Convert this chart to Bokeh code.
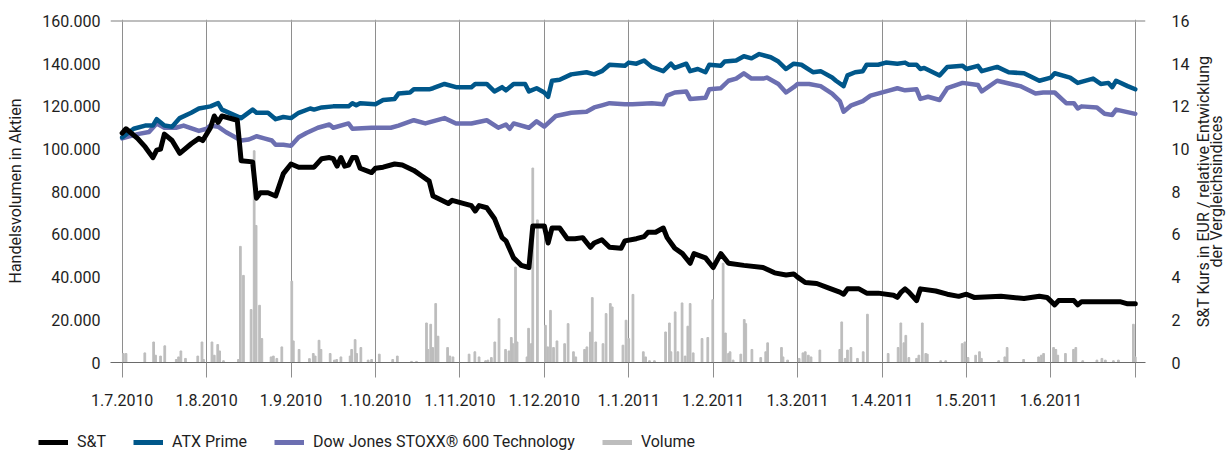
import math
from bokeh.plotting import figure
from bokeh.layouts import column, row
from bokeh.models import Range1d, LinearAxis, FixedTicker, Legend, LegendItem, Span, Label
from bokeh.embed import file_html
from bokeh.resources import INLINE

# ---------------- data ----------------
# x positions are trading-day indices from 1.7.2010 (22 trading days per labelled month step)
month_ticks = [0, 22, 44, 66, 88, 110, 132, 154, 176, 198, 220, 242, 264]
month_labels = ["1.7.2010", "1.8.2010", "1.9.2010", "1.10.2010", "1.11.2010", "1.12.2010",
                "1.1.2011", "1.2.2011", "1.3.2011", "1.4.2011", "1.5.2011", "1.6.2011", ""]

vol_ticks = [0, 20000, 40000, 60000, 80000, 100000, 120000, 140000, 160000]
vol_tick_labels = ["0", "20.000", "40.000", "60.000", "80.000", "100.000", "120.000", "140.000", "160.000"]
price_ticks = [0, 2, 4, 6, 8, 10, 12, 14, 16]

st_t = [0, 1, 4, 6, 8, 9, 10, 11, 13, 15, 18, 20, 21, 23, 24, 25, 26, 30, 31, 34,
        35, 36, 38, 40, 42, 44, 46, 50, 52, 54, 55, 56, 57, 58, 59, 60, 61, 62, 65, 66,
        68, 71, 73, 76, 78, 80, 81, 85, 86, 91, 92, 93, 95, 97, 99, 100, 102, 104, 106, 107,
        110, 111, 112, 114, 116, 118, 120, 122, 123, 125, 127, 130, 131, 134, 136, 137, 139, 141, 142, 144,
        146, 148, 149, 152, 154, 156, 158, 162, 167, 170, 173, 175, 176, 178, 181, 184, 187, 188, 189, 192,
        194, 197, 201, 202, 203, 204, 205, 207, 208, 212, 215, 218, 220, 222, 229, 235, 239, 241, 243, 244,
        248, 249, 250, 254, 260, 262, 264]
st_v = [10.75, 10.95, 10.5, 10.1, 9.6, 9.95, 10.0, 10.7, 10.4, 9.8,
        10.25, 10.5, 10.4, 11.0, 11.55, 11.25, 11.55, 11.35, 9.45, 9.4,
        7.7, 7.95, 7.95, 7.8, 8.85, 9.3, 9.15, 9.15, 9.55, 9.6,
        9.55, 9.2, 9.6, 9.2, 9.25, 9.6, 9.6, 9.1, 8.9, 9.1,
        9.15, 9.3, 9.25, 9.0, 8.75, 8.5, 7.8, 7.45, 7.6, 7.35,
        7.1, 7.35, 7.25, 6.75, 5.85, 5.7, 4.9, 4.55, 4.45, 6.4,
        6.4, 5.6, 6.3, 6.3, 5.8, 5.8, 5.85, 5.4, 5.6, 5.75,
        5.4, 5.35, 5.7, 5.8, 5.9, 6.1, 6.1, 6.3, 5.85, 5.35,
        5.1, 4.65, 5.1, 4.9, 4.45, 5.1, 4.65, 4.55, 4.45, 4.2,
        4.1, 4.15, 4.0, 3.75, 3.7, 3.5, 3.3, 3.2, 3.45, 3.45,
        3.25, 3.25, 3.15, 3.05, 3.3, 3.45, 3.3, 2.9, 3.45, 3.35,
        3.2, 3.1, 3.2, 3.05, 3.1, 3.0, 3.1, 3.05, 2.7, 2.9,
        2.9, 2.7, 2.85, 2.85, 2.85, 2.75, 2.75]

atx_t = [0, 3, 6, 8, 9, 11, 13, 15, 18, 20, 23, 25, 26, 31, 34, 35, 38, 40, 42, 44,
         46, 49, 50, 52, 55, 59, 60, 61, 62, 66, 68, 71, 72, 75, 76, 80, 81, 84, 87, 91,
         92, 95, 97, 99, 100, 102, 105, 106, 108, 110, 111, 112, 114, 117, 121, 123, 125, 127, 131, 132,
         134, 136, 138, 141, 143, 144, 147, 148, 150, 152, 153, 156, 157, 160, 162, 164, 166, 169, 171, 173,
         175, 177, 180, 182, 185, 186, 188, 189, 191, 193, 194, 197, 199, 202, 204, 205, 207, 208, 209, 213,
         215, 219, 220, 223, 224, 228, 231, 235, 239, 242, 243, 247, 249, 253, 255, 257, 258, 259, 262, 264]
atx_v = [10.55, 10.95, 11.1, 11.1, 11.4, 11.1, 11.05, 11.45, 11.7, 11.9,
         12.0, 12.15, 11.85, 11.45, 11.85, 11.7, 11.7, 11.4, 11.5, 11.45,
         11.7, 11.9, 11.85, 11.95, 12.0, 12.0, 12.15, 12.05, 12.15, 12.1,
         12.3, 12.35, 12.6, 12.65, 12.8, 12.8, 12.85, 13.05, 12.9, 12.9,
         13.05, 13.05, 12.7, 12.9, 12.75, 13.05, 13.05, 12.7, 12.85, 12.65,
         12.45, 13.2, 13.25, 13.5, 13.6, 13.5, 13.65, 13.95, 13.9, 14.05,
         14.0, 14.15, 13.85, 13.65, 14.0, 13.8, 14.0, 13.65, 13.75, 13.6,
         13.95, 13.9, 14.1, 14.15, 14.35, 14.25, 14.45, 14.3, 14.1, 13.75,
         14.0, 13.95, 13.6, 13.65, 13.35, 13.2, 12.95, 13.45, 13.6, 13.65,
         13.95, 13.95, 14.05, 14.0, 14.05, 13.95, 13.95, 13.75, 13.8, 13.45,
         13.85, 13.9, 13.75, 13.9, 13.65, 13.85, 13.6, 13.55, 13.2, 13.35,
         13.55, 13.35, 13.1, 13.3, 13.05, 13.1, 12.9, 13.2, 12.95, 12.8]

stoxx_t = [0, 4, 7, 9, 11, 14, 16, 20, 22, 23, 25, 27, 31, 33, 35, 37, 39, 40, 42, 44,
           46, 48, 51, 54, 55, 59, 60, 65, 70, 72, 76, 79, 84, 87, 91, 95, 98, 100, 101, 102,
           106, 108, 110, 113, 117, 121, 123, 125, 127, 131, 133, 138, 141, 142, 144, 147, 148, 152, 153, 156,
           158, 160, 162, 164, 167, 168, 171, 173, 175, 176, 179, 182, 185, 187, 188, 190, 193, 195, 200, 202,
           204, 207, 208, 210, 213, 215, 219, 223, 224, 228, 234, 238, 240, 243, 246, 248, 249, 250, 254, 256,
           258, 259, 264]
stoxx_v = [10.5, 10.7, 10.8, 11.2, 11.0, 11.0, 11.1, 10.85, 10.95, 11.1,
           11.05, 10.8, 10.4, 10.45, 10.6, 10.5, 10.4, 10.2, 10.2, 10.15,
           10.55, 10.75, 11.0, 11.15, 11.0, 11.2, 10.95, 11.0, 11.0, 11.1,
           11.35, 11.2, 11.45, 11.2, 11.2, 11.35, 11.0, 11.15, 10.95, 11.2,
           11.0, 11.3, 11.05, 11.55, 11.7, 11.75, 11.95, 12.05, 12.15, 12.1,
           12.1, 12.15, 12.1, 12.5, 12.65, 12.7, 12.35, 12.4, 12.8, 12.85,
           13.2, 13.3, 13.55, 13.3, 13.3, 13.35, 13.05, 12.65, 12.9, 13.05,
           13.05, 12.95, 12.6, 12.25, 11.75, 12.05, 12.25, 12.5, 12.75, 12.85,
           12.75, 12.8, 12.35, 12.45, 12.3, 12.85, 13.1, 13.0, 12.7, 13.2,
           12.95, 12.6, 12.65, 12.65, 12.15, 12.15, 11.9, 12.0, 11.95, 11.65,
           11.6, 11.85, 11.65]

vol_t = [0.3, 1.0, 5.9, 8.2, 8.7, 10.0, 11.1, 14.1, 14.7, 15.3,
         16.5, 19.7, 20.8, 21.2, 23.4, 24.0, 24.9, 25.4, 26.4, 30.3,
         30.8, 31.6, 33.6, 34.4, 34.9, 35.8, 36.4, 38.8, 39.4, 40.3,
         41.6, 44.2, 44.6, 46.1, 48.8, 49.8, 50.3, 51.3, 51.8, 54.2,
         55.3, 55.9, 57.0, 59.4, 59.8, 60.7, 61.1, 62.2, 64.1, 65.0,
         67.0, 70.5, 71.7, 75.4, 76.7, 79.3, 79.7, 80.4, 80.9, 81.7,
         82.3, 84.8, 85.4, 86.2, 90.4, 91.9, 93.0, 94.7, 95.3, 96.2,
         97.1, 98.2, 99.9, 100.8, 101.4, 101.8, 102.5, 102.9, 105.5, 105.9,
         106.6, 107.0, 108.2, 110.3, 110.9, 111.6, 112.4, 113.3, 115.3, 116.2,
         117.6, 118.2, 120.5, 121.1, 122.0, 122.5, 123.4, 125.3, 126.1, 127.2,
         127.7, 130.5, 131.3, 132.0, 133.1, 135.8, 136.4, 137.4, 138.7, 141.6,
         142.6, 143.0, 144.1, 144.8, 145.9, 146.7, 147.4, 148.0, 148.8, 151.1,
         152.6, 153.9, 156.6, 157.2, 158.0, 158.4, 159.2, 161.2, 162.1, 162.5,
         164.1, 166.4, 167.7, 168.2, 171.8, 172.2, 173.4, 176.4, 177.4, 178.0,
         178.8, 179.5, 181.8, 187.0, 187.5, 188.4, 189.0, 189.9, 191.6, 193.1,
         194.2, 199.6, 202.2, 202.9, 203.7, 204.2, 205.0, 207.0, 207.6, 208.5,
         209.4, 209.8, 213.3, 214.6, 218.9, 219.6, 220.4, 222.4, 223.4, 223.9,
         228.4, 230.0, 230.6, 234.9, 238.8, 239.5, 240.1, 242.7, 243.3, 243.8,
         245.8, 247.9, 248.5, 250.3, 254.0, 255.3, 256.2, 258.3, 259.6, 263.5,
         264.0]
vol_v = [4200, 4200, 4500, 9600, 3400, 3000, 7800, 1400, 2600, 5400,
         1900, 3000, 9600, 1400, 9600, 3400, 8400, 5400, 800, 1400,
         54400, 40800, 24800, 99200, 64200, 26800, 11200, 2600, 3000, 1900,
         7300, 38100, 10100, 6100, 1800, 4200, 3000, 10400, 6100, 4200,
         1100, 1400, 2600, 3000, 6100, 10700, 4200, 7000, 1100, 1400,
         3900, 1400, 3000, 500, 500, 18500, 6100, 17900, 7000, 27600,
         12300, 7000, 3000, 2600, 3900, 5000, 2600, 800, 1100, 2300,
         9600, 20500, 6100, 5400, 11700, 8800, 44700, 9600, 2600, 16000,
         8800, 91100, 66800, 17400, 7300, 24400, 7000, 10100, 8800, 18200,
         5000, 2600, 6100, 7300, 14200, 30400, 9600, 8800, 22900, 27600,
         26000, 8100, 19800, 11200, 31900, 5000, 2600, 800, 800, 14300,
         18500, 5000, 23700, 5000, 27900, 3000, 17000, 27600, 4500, 11200,
         11700, 29400, 46500, 13800, 4200, 5000, 1100, 3900, 20100, 18200,
         6100, 2300, 5000, 9200, 7000, 2600, 1100, 1900, 4500, 5000,
         3400, 2600, 5800, 6100, 19000, 1900, 5800, 7000, 1900, 5000,
         22600, 4200, 7000, 18500, 9200, 12700, 2300, 1900, 3400, 18500,
         4200, 3900, 800, 800, 8800, 9600, 2300, 3400, 5000, 1900,
         800, 2600, 7000, 1400, 2600, 3400, 4200, 7000, 6100, 3400,
         4200, 6100, 7000, 800, 1100, 1900, 1100, 800, 1100, 17900,
         2600]

series_names = ["S&T", "ATX Prime", "Dow Jones STOXX® 600 Technology", "Volume"]
left_title = "Handelsvolumen in Aktien"
right_title_lines = ["S&T Kurs in EUR / relative Entwicklung", "der Vergleichsindices"]

# ---------------- styling ----------------
FONT = "Roboto"
TXT = "#1e1e1e"
C_ST = "#000000"
C_ATX = "#00578a"
C_STOXX = "#6c6fb1"
C_VOL = "#bdbdbd"
GRID = "#8e8e8e"


def no_align(fig):
    try:
        fig.frame_align = False
    except Exception:
        pass


p = figure(width=1192, height=420, output_backend="svg", toolbar_location=None,
           x_range=Range1d(-3.04, 266.66), y_range=Range1d(0, 160700),
           min_border_left=110, min_border_right=45, min_border_top=19, min_border_bottom=58)
no_align(p)
p.extra_y_ranges = {"right": Range1d(0, 16.07)}
p.outline_line_color = None
p.background_fill_color = "white"
p.border_fill_color = "white"

# x axis
xa = p.xaxis[0]
xa.ticker = FixedTicker(ticks=month_ticks)
xa.major_label_overrides = {t: lab for t, lab in zip(month_ticks, month_labels)}
xa.axis_line_color = "#6a6a6a"
xa.major_tick_line_color = GRID
xa.major_tick_out = 15
xa.major_tick_in = 0
xa.minor_tick_line_color = None
xa.major_label_standoff = 16
xa.major_label_text_font = FONT
xa.major_label_text_font_size = "16px"
xa.major_label_text_color = TXT

# left axis
ya = p.yaxis[0]
ya.ticker = FixedTicker(ticks=vol_ticks)
ya.major_label_overrides = {t: lab for t, lab in zip(vol_ticks, vol_tick_labels)}
ya.axis_line_color = None
ya.major_tick_line_color = None
ya.major_tick_out = 0
ya.major_tick_in = 0
ya.minor_tick_line_color = None
ya.major_label_standoff = 10
ya.major_label_text_font = FONT
ya.major_label_text_font_size = "16px"
ya.major_label_text_color = TXT
ya.axis_label = left_title
ya.axis_label_standoff = 14
ya.axis_label_text_font = FONT
ya.axis_label_text_font_size = "16px"
ya.axis_label_text_font_style = "normal"
ya.axis_label_text_color = TXT

# right axis (ticks only; title drawn in a side strip)
ra = LinearAxis(y_range_name="right", ticker=FixedTicker(ticks=price_ticks))
ra.axis_line_color = None
ra.major_tick_line_color = None
ra.major_tick_out = 0
ra.major_tick_in = 0
ra.minor_tick_line_color = None
ra.major_label_standoff = 26
ra.major_label_text_align = "right"
ra.major_label_text_font = FONT
ra.major_label_text_font_size = "16px"
ra.major_label_text_color = TXT
p.add_layout(ra, "right")

p.xgrid.ticker = FixedTicker(ticks=month_ticks)
p.xgrid.grid_line_color = GRID
p.xgrid.grid_line_width = 1
p.ygrid.visible = False

p.add_layout(Span(location=160000, dimension="width", line_color="#a9a9a9", line_width=1.5))

# marks
p.vbar(x=vol_t, top=vol_v, bottom=0, width=0.45, color=C_VOL)
p.line(stoxx_t, stoxx_v, y_range_name="right", line_color=C_STOXX, line_width=4.5,
       line_join="round", line_cap="round")
p.line(atx_t, atx_v, y_range_name="right", line_color=C_ATX, line_width=4.5,
       line_join="round", line_cap="round")
p.line(st_t, st_v, y_range_name="right", line_color=C_ST, line_width=5,
       line_join="round", line_cap="round")

# right title strip (pixel coordinates)
rt = figure(width=34, height=420, output_backend="svg", toolbar_location=None,
            x_axis_location=None, y_axis_location=None,
            x_range=Range1d(0, 34), y_range=Range1d(0, 420),
            min_border_left=0, min_border_right=0, min_border_top=0, min_border_bottom=0)
no_align(rt)
rt.grid.visible = False
rt.outline_line_color = None
for xpos, txt in zip([11, 24], right_title_lines):
    rt.add_layout(Label(x=xpos, y=229, text=txt, angle=math.pi / 2,
                        text_align="center", text_baseline="middle", text_font=FONT,
                        text_font_size="16px", text_color=TXT))

# legend strip below the chart
q = figure(width=1226, height=32, output_backend="svg", toolbar_location=None,
           x_axis_location=None, y_axis_location=None,
           x_range=Range1d(0, 1), y_range=Range1d(0, 1),
           min_border_left=0, min_border_right=0, min_border_top=0, min_border_bottom=0)
no_align(q)
q.grid.visible = False
q.outline_line_color = None
leg_colors = [C_ST, C_ATX, C_STOXX, C_VOL]
leg_items = []
for name, col in zip(series_names, leg_colors):
    r = q.line([-10, -9], [-10, -9], line_color=col, line_width=5)
    leg_items.append(LegendItem(label=name, renderers=[r]))
legend = Legend(items=leg_items, location=(38, 1), orientation="horizontal",
                glyph_width=30, glyph_height=16, label_height=16, label_standoff=9,
                spacing=27, padding=0, margin=0,
                border_line_color=None, background_fill_alpha=0,
                label_text_font=FONT, label_text_font_size="16px", label_text_color=TXT)
q.add_layout(legend)

layout = column(row(p, rt, spacing=0), q, spacing=0)
html = file_html(layout, INLINE)
html = html.replace("<head>", "<head><style>html,body{overflow:hidden;}</style>", 1)
open("out.html", "w").write(html)
